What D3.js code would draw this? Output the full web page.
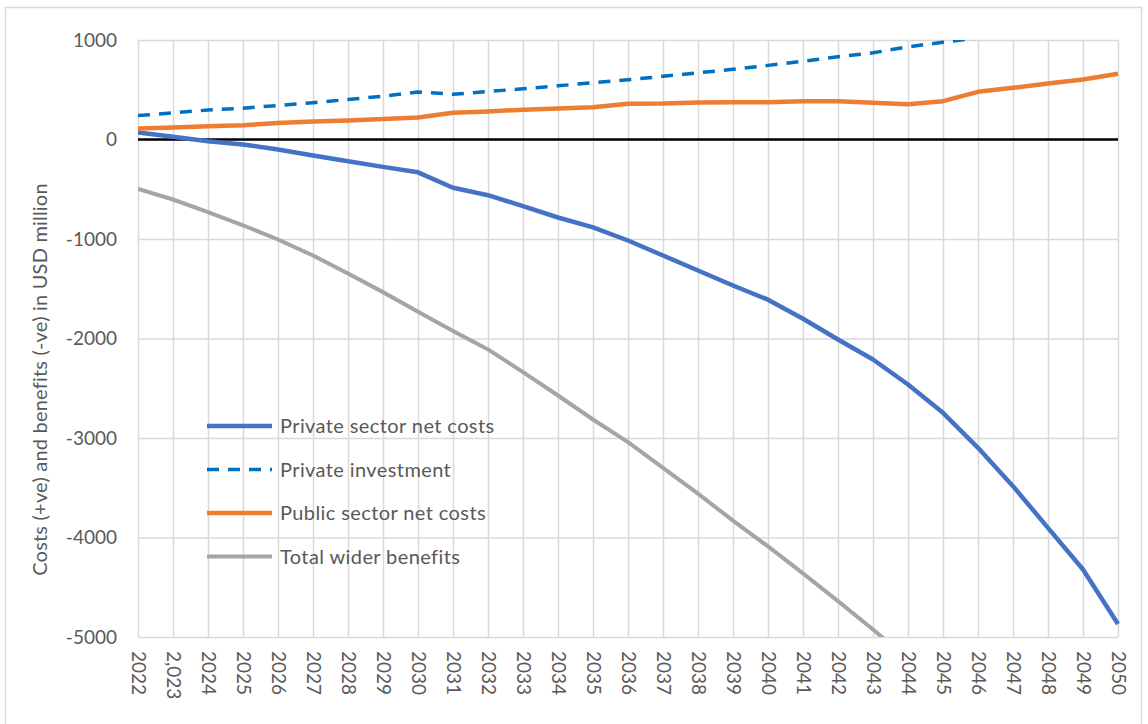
<!DOCTYPE html>
<html>
<head>
<meta charset="utf-8">
<script src="https://cdn.jsdelivr.net/npm/d3@7"></script>
<style>
  body { margin: 0; background: #fff; }
  text { font-family: Lato, "Open Sans", sans-serif; fill: #595959; }
</style>
</head>
<body>
<div id="chart"></div>
<script>
// data (USD million)
var years = [2022, 2023, 2024, 2025, 2026, 2027, 2028, 2029, 2030, 2031, 2032, 2033, 2034, 2035,
  2036, 2037, 2038, 2039, 2040, 2041, 2042, 2043, 2044, 2045, 2046, 2047, 2048, 2049, 2050];
var yearLabels = years.map(function(y) { return y === 2023 ? "2,023" : String(y); });

var privateNet = [70, 27, -17, -50, -100, -160, -218, -275, -330, -485, -560, -670, -784, -884,
  -1015, -1166, -1317, -1467, -1610, -1802, -2010, -2211, -2462, -2747, -3099, -3484, -3903, -4322, -4870];
var privateInvest = [240, 268, 296, 315, 342, 370, 402, 435, 477, 455, 482, 510, 540, 570,
  600, 635, 670, 705, 745, 787, 831, 871, 931, 978, 1020, 1080, 1140, 1200, 1260];
var publicNet = [110, 120, 132, 144, 165, 180, 192, 205, 222, 268, 282, 300, 312, 325,
  360, 362, 372, 374, 375, 385, 385, 369, 355, 385, 479, 520, 563, 603, 660];
var widerBenefits = [-496, -603, -730, -862, -1005, -1166, -1347, -1534, -1730, -1925, -2110, -2338, -2573, -2814,
  -3042, -3300, -3560, -3830, -4090, -4360, -4640, -4925, -5220, -5520, -5830, -6150, -6480, -6820, -7170];

var yTicks = [1000, 0, -1000, -2000, -3000, -4000, -5000];

var series = [
  { name: "Private sector net costs", values: privateNet, color: "#4472C4", width: 4.5, dash: null },
  { name: "Private investment", values: privateInvest, color: "#0070C0", width: 3.5, dash: "12,9" },
  { name: "Public sector net costs", values: publicNet, color: "#ED7D31", width: 4.5, dash: null },
  { name: "Total wider benefits", values: widerBenefits, color: "#A5A5A5", width: 4, dash: null }
];

var svgWidth = 1148;
var svgHeight = 724;
var margin = { top: 40, right: 30, bottom: 87, left: 138 };
var width = svgWidth - margin.left - margin.right;
var height = svgHeight - margin.top - margin.bottom;

var svg = d3.select("#chart").append("svg")
  .attr("width", svgWidth)
  .attr("height", svgHeight);

// chart border
svg.append("rect")
  .attr("x", 5.5).attr("y", 7.5)
  .attr("width", 1136).attr("height", 730)
  .attr("fill", "none")
  .attr("stroke", "#d9d9d9")
  .attr("stroke-width", 1.5);

var chartGroup = svg.append("g")
  .attr("transform", `translate(${margin.left}, ${margin.top})`);

var x = d3.scalePoint().domain(years).range([0, width]);
var y = d3.scaleLinear().domain([-5000, 1000]).range([height, 0]);

// gridlines
chartGroup.append("g")
  .call(d3.axisLeft(y).tickValues(yTicks).tickSize(-width).tickFormat(""))
  .call(g => g.select(".domain").remove())
  .selectAll("line").attr("stroke", "#d9d9d9").attr("stroke-width", 1.5);

chartGroup.append("g")
  .attr("transform", `translate(0, ${height})`)
  .call(d3.axisBottom(x).tickSize(height).tickFormat(""))
  .call(g => g.select(".domain").remove())
  .selectAll("line")
  .attr("transform", `translate(0, ${-height})`)
  .attr("stroke", "#d9d9d9").attr("stroke-width", 1.5);

// y tick labels (plain hyphen minus, like the original)
var yAxis = chartGroup.append("g")
  .call(d3.axisLeft(y).tickValues(yTicks).tickSize(0).tickPadding(21).tickFormat(d => String(d)));
yAxis.select(".domain").remove();
yAxis.selectAll("text")
  .style("font-family", "Lato, sans-serif")
  .style("font-size", "19px")
  .attr("fill", "#595959");

// x tick labels, rotated
var xAxis = chartGroup.append("g")
  .attr("transform", `translate(0, ${height})`)
  .call(d3.axisBottom(x).tickSize(0).tickFormat((d, i) => yearLabels[i]));
xAxis.select(".domain").remove();
xAxis.selectAll("text")
  .style("font-family", "Lato, sans-serif")
  .style("font-size", "19px")
  .attr("fill", "#595959")
  .attr("transform", "rotate(90)")
  .attr("x", 14)
  .attr("y", 0)
  .attr("dy", "0.35em")
  .style("text-anchor", "start");

// zero line
chartGroup.append("line")
  .attr("x1", 0).attr("x2", width)
  .attr("y1", y(0)).attr("y2", y(0))
  .attr("stroke", "#000").attr("stroke-width", 2.5);

// clip lines to plot area
svg.append("defs").append("clipPath").attr("id", "plotClip")
  .append("rect").attr("x", 0).attr("y", 0).attr("width", width + 4).attr("height", height);

var line = d3.line()
  .x((d, i) => x(years[i]))
  .y(d => y(d));

chartGroup.append("g").attr("clip-path", "url(#plotClip)")
  .selectAll("path")
  .data(series)
  .enter()
  .append("path")
  .attr("d", d => line(d.values))
  .attr("fill", "none")
  .attr("stroke", d => d.color)
  .attr("stroke-width", d => d.width)
  .attr("stroke-dasharray", d => d.dash)
  .attr("stroke-linejoin", "round");

// legend
var legend = svg.append("g").attr("transform", "translate(207, 426)");
series.forEach(function(s, i) {
  var row = legend.append("g").attr("transform", `translate(0, ${i * 43.5})`);
  row.append("line")
    .attr("x1", 0).attr("x2", 65)
    .attr("y1", 0).attr("y2", 0)
    .attr("stroke", s.color)
    .attr("stroke-width", s.width)
    .attr("stroke-dasharray", s.dash);
  row.append("text")
    .attr("x", 73).attr("y", 0).attr("dy", "0.35em")
    .style("font-size", "20px")
    .style("letter-spacing", "0.4px")
    .text(s.name);
});

// y axis title
svg.append("text")
  .attr("transform", `translate(47, ${margin.top + height / 2 + 41}) rotate(-90)`)
  .style("text-anchor", "middle")
  .style("font-size", "20px")
  .style("letter-spacing", "0.2px")
  .text("Costs (+ve) and benefits (-ve) in USD million");
</script>
</body>
</html>
